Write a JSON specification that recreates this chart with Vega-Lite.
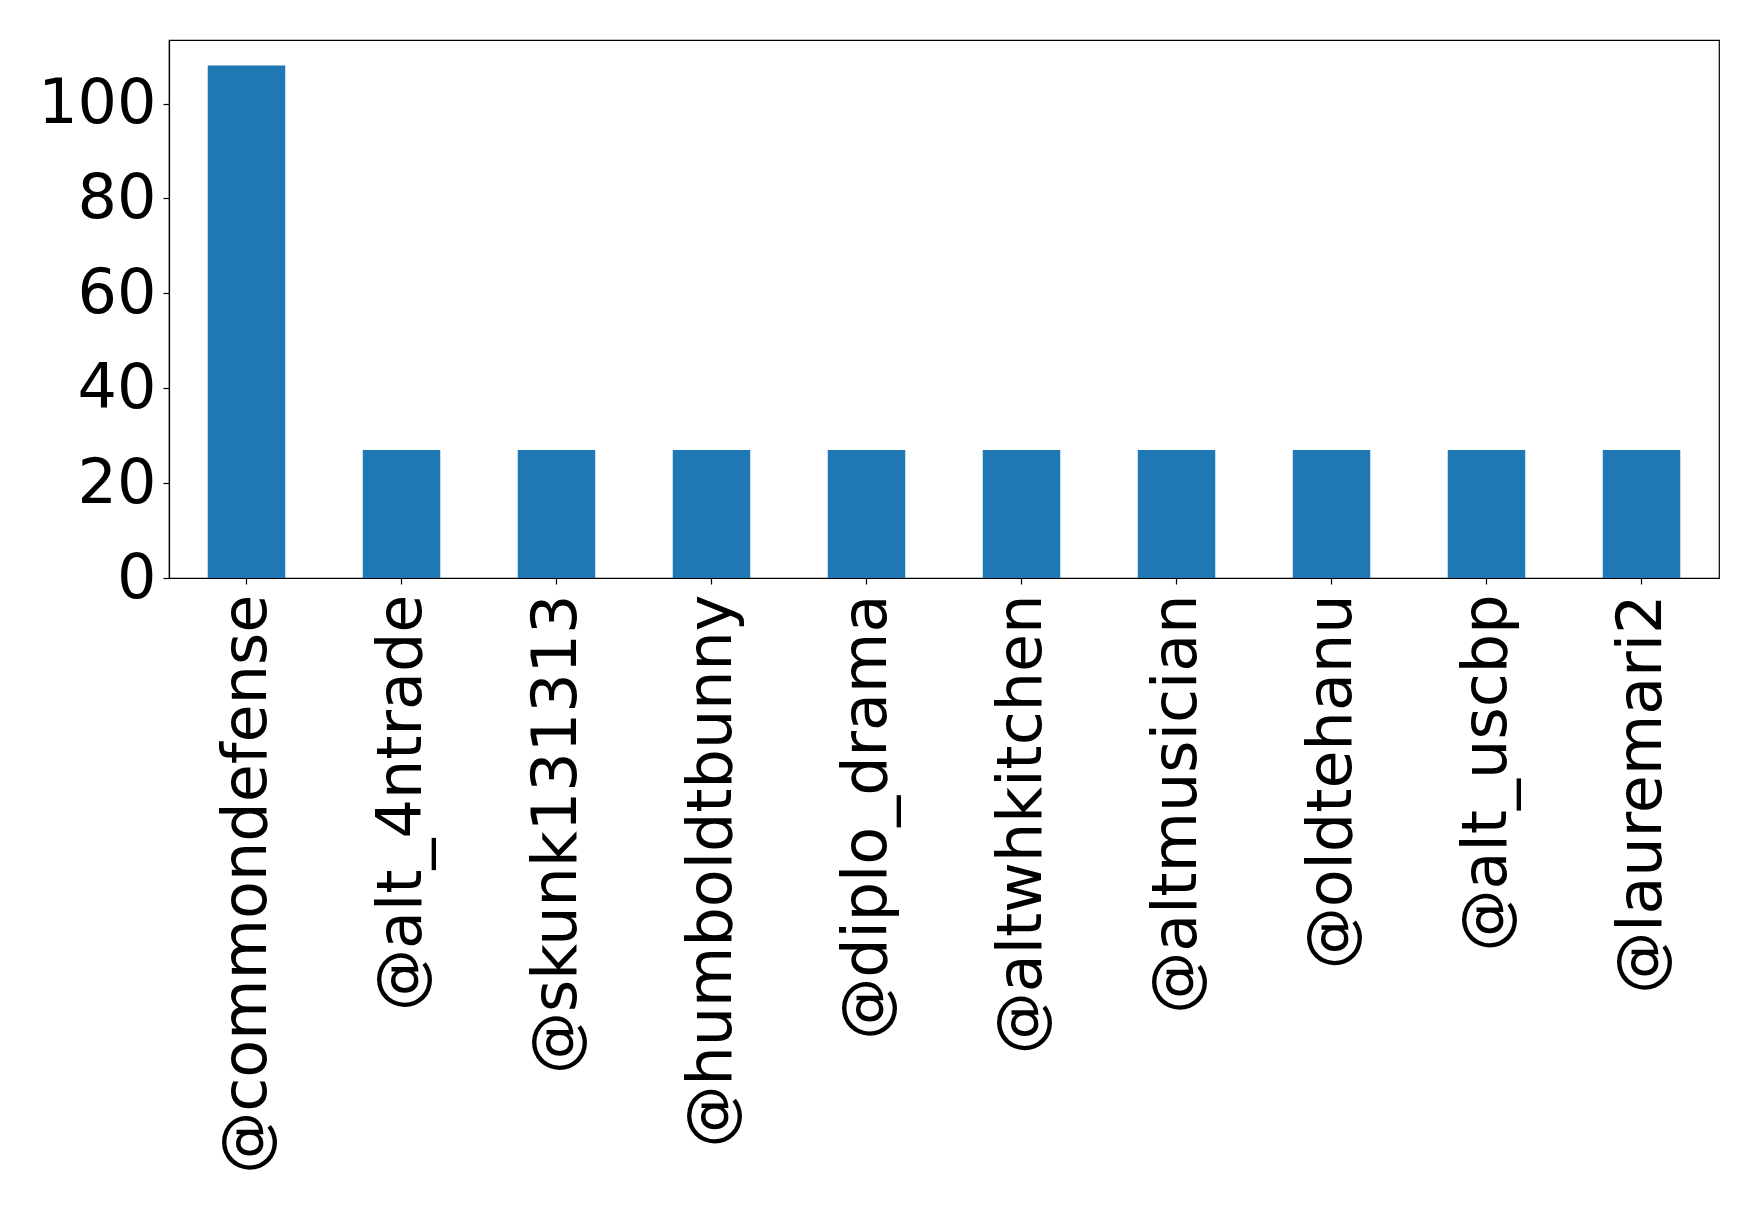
{
  "$schema": "https://vega.github.io/schema/vega-lite/v6.json",
  "autosize": {"type": "none"},
  "width": 1550,
  "height": 538,
  "padding": {"left": 169, "top": 40, "right": 39, "bottom": 634},
  "background": "white",
  "data": {
    "values": [
      {"user": "@commondefense", "count": 108},
      {"user": "@alt_4ntrade", "count": 27},
      {"user": "@skunk131313", "count": 27},
      {"user": "@humboldtbunny", "count": 27},
      {"user": "@diplo_drama", "count": 27},
      {"user": "@altwhkitchen", "count": 27},
      {"user": "@altmusician", "count": 27},
      {"user": "@oldtehanu", "count": 27},
      {"user": "@alt_uscbp", "count": 27},
      {"user": "@lauremari2", "count": 27}
    ]
  },
  "mark": {"type": "bar", "color": "#1f77b4"},
  "encoding": {
    "x": {
      "field": "user",
      "type": "nominal",
      "sort": null,
      "scale": {"paddingInner": 0.5, "paddingOuter": 0.25},
      "axis": {
        "title": null,
        "labelAngle": 270,
        "labelAlign": "right",
        "labelBaseline": "middle",
        "labelFont": "DejaVu Sans",
        "labelFontSize": 62,
        "labelColor": "black",
        "labelPadding": 10,
        "tickSize": 6,
        "tickColor": "black",
        "domainColor": "black",
        "labelOverlap": false,
        "labelLimit": 0
      }
    },
    "y": {
      "field": "count",
      "type": "quantitative",
      "scale": {"domain": [0, 113.4], "nice": false},
      "axis": {
        "title": null,
        "values": [0, 20, 40, 60, 80, 100],
        "grid": false,
        "labelFont": "DejaVu Sans",
        "labelFontSize": 62,
        "labelColor": "black",
        "labelPadding": 7,
        "tickSize": 6,
        "tickColor": "black",
        "domainColor": "black",
        "labelFlush": false,
        "labelOverlap": false
      }
    }
  },
  "config": {
    "view": {"stroke": "black", "strokeWidth": 1.2},
    "axis": {"domainWidth": 1.2, "tickWidth": 1.2}
  }
}
